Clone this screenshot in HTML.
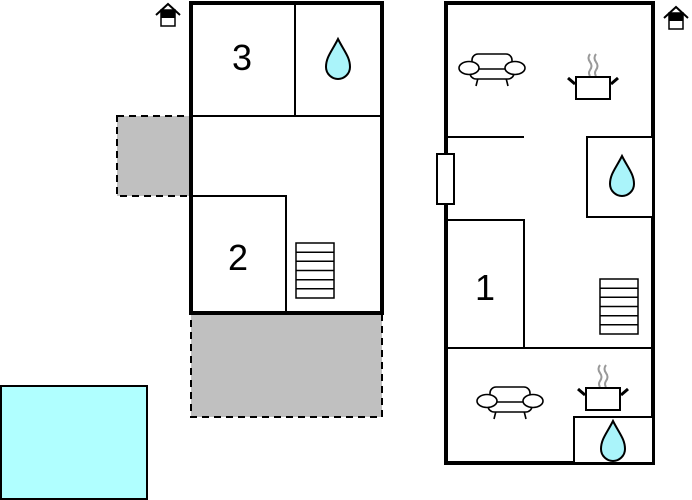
<!DOCTYPE html>
<html><head><style>html,body{margin:0;padding:0;background:#fff}svg{display:block}</style></head>
<body>
<svg width="692" height="500" viewBox="0 0 692 500" xmlns="http://www.w3.org/2000/svg" font-family="Liberation Sans, sans-serif">
<defs>
<g id="drop"><path d="M0,-20 C6,-8 12,-2 12,8 C12,15 6,20 0,20 C-6,20 -12,15 -12,8 C-12,-2 -6,-8 0,-20 Z" fill="#aaf4fa" stroke="#000" stroke-width="2"/></g>
<g id="sofa" fill="#fff" stroke="#000" stroke-width="1.6">
<line x1="-14" y1="10" x2="-16" y2="18"/><line x1="14" y1="10" x2="16" y2="18"/>
<rect x="-22" y="-3" width="44" height="14" rx="6"/>
<rect x="-20" y="-14" width="40" height="15" rx="6"/>
<ellipse cx="-23" cy="0" rx="10" ry="6.5"/><ellipse cx="23" cy="0" rx="10" ry="6.5"/>
</g>
<g id="pot">
<path d="M-3,-30 q-3,4 0,8 q3,4 0,8 q-2,3 0,6 M3,-30 q-3,4 0,8 q3,4 0,8 q-2,3 0,6" fill="none" stroke="#999" stroke-width="2"/>
<line x1="-25" y1="-6" x2="-18" y2="0" stroke="#000" stroke-width="3"/>
<line x1="25" y1="-6" x2="18" y2="0" stroke="#000" stroke-width="3"/>
<rect x="-17" y="-7" width="34" height="22" fill="#fff" stroke="#000" stroke-width="2"/>
</g>
<g id="house">
<path d="M-12,-3 L0,-14 L12,-3" fill="none" stroke="#000" stroke-width="2"/>
<rect x="-7" y="-8" width="14" height="16" fill="#fff" stroke="#000" stroke-width="1.5"/>
<rect x="-7" y="-8" width="14" height="8" fill="#000"/>
</g>
<g id="stairs" fill="#fff" stroke="#000" stroke-width="1.5">
<rect x="0" y="0" width="38" height="55"/>
<path d="M0,9.2H38M0,18.3H38M0,27.5H38M0,36.7H38M0,45.8H38"/>
</g>
</defs>

<rect x="1" y="386" width="146" height="113" fill="#b0ffff" stroke="#000" stroke-width="2"/>

<rect x="117" y="116" width="73" height="80" fill="#c0c0c0" stroke="#000" stroke-width="2" stroke-dasharray="7,5"/>
<rect x="191" y="313" width="191" height="104" fill="#c0c0c0" stroke="#000" stroke-width="2" stroke-dasharray="7,5"/>

<rect x="191" y="3" width="191" height="310" fill="#fff" stroke="#000" stroke-width="4"/>
<line x1="191" y1="116" x2="382" y2="116" stroke="#000" stroke-width="2"/>
<line x1="295" y1="3" x2="295" y2="116" stroke="#000" stroke-width="2"/>
<polyline points="191,196 286,196 286,313" fill="none" stroke="#000" stroke-width="2"/>
<use href="#stairs" x="296" y="243"/>
<text x="242" y="70" font-size="36" text-anchor="middle">3</text>
<text x="238" y="270" font-size="36" text-anchor="middle">2</text>
<use href="#drop" x="338" y="59"/>
<use href="#house" x="168" y="18"/>

<rect x="446" y="3" width="207" height="460" fill="#fff" stroke="#000" stroke-width="4"/>
<line x1="446" y1="137" x2="524" y2="137" stroke="#000" stroke-width="2"/>
<rect x="587" y="137" width="66" height="80" fill="#fff" stroke="#000" stroke-width="2"/>
<rect x="437" y="154" width="17" height="50" fill="#fff" stroke="#000" stroke-width="2"/>
<polyline points="446,220 524,220 524,348" fill="none" stroke="#000" stroke-width="2"/>
<line x1="446" y1="348" x2="653" y2="348" stroke="#000" stroke-width="2"/>
<rect x="574" y="417" width="79" height="46" fill="#fff" stroke="#000" stroke-width="2"/>
<use href="#stairs" x="600" y="279"/>
<text x="485" y="300" font-size="36" text-anchor="middle">1</text>
<use href="#sofa" x="492" y="68"/>
<use href="#pot" x="593" y="84"/>
<use href="#drop" x="622" y="176"/>
<use href="#sofa" x="510" y="401"/>
<use href="#pot" x="603" y="395"/>
<use href="#drop" x="613" y="441"/>
<use href="#house" x="676" y="21"/>
</svg>
</body></html>
